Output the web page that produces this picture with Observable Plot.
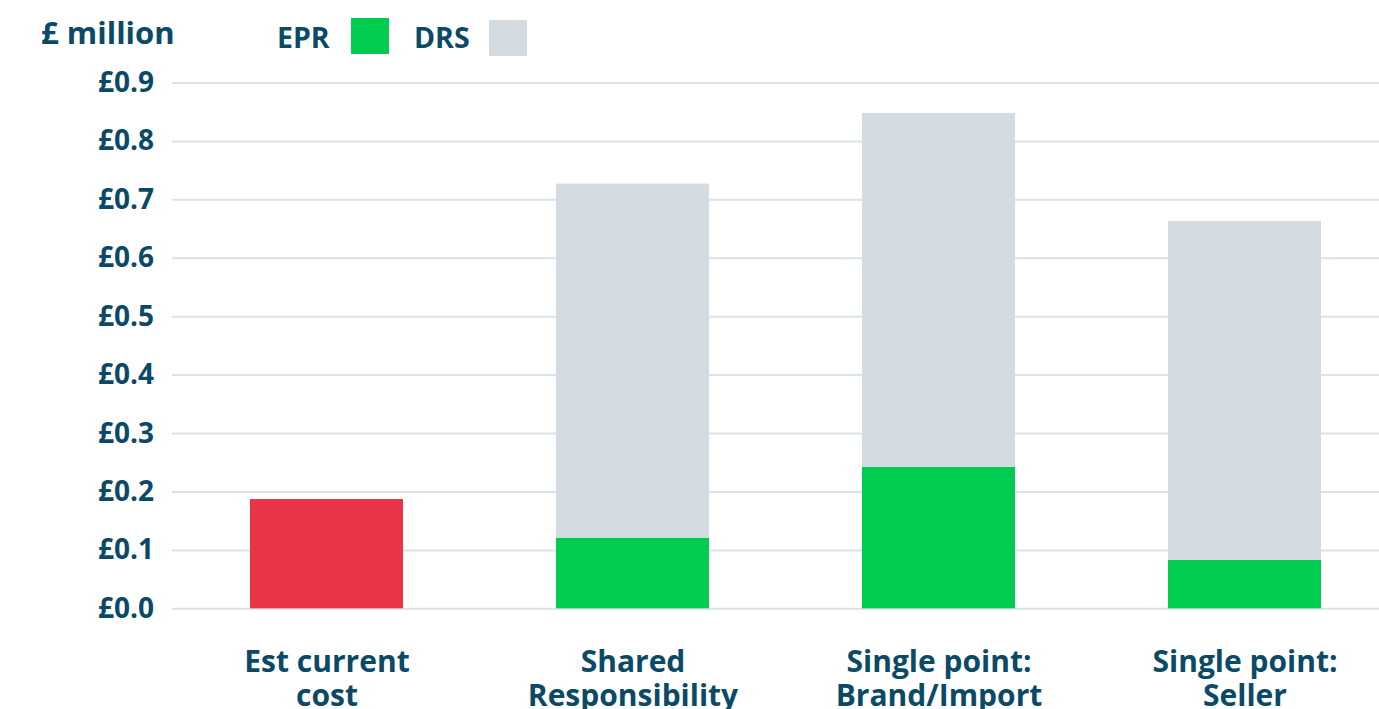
<!DOCTYPE html>
<html>
<head>
<meta charset="utf-8">
<script src="https://cdn.jsdelivr.net/npm/d3@7"></script>
<script src="https://cdn.jsdelivr.net/npm/@observablehq/plot@0.6"></script>
<style>
  html, body { margin: 0; padding: 0; background: #ffffff; overflow: hidden; }
  body { font-family: "Open Sans", sans-serif; color: #0b4a66; }
  #header { position: relative; width: 1379px; height: 60px; }
  #header .t { position: absolute; font-weight: 700; line-height: 1; white-space: nowrap; }
  #header .sw { position: absolute; width: 38px; height: 36px; }
</style>
</head>
<body>
<div id="header">
  <div class="t" style="left:41px; top:17px; font-size:31px;">£ million</div>
  <div class="t" style="left:277px; top:23px; font-size:28.5px;">EPR</div>
  <div class="sw" id="sw-epr" style="left:351px; top:18px;"></div>
  <div class="t" style="left:414px; top:23px; font-size:28.5px;">DRS</div>
  <div class="sw" id="sw-drs" style="left:489px; top:20px;"></div>
</div>
<div id="chart"></div>
<script>
// Cost options, £ million
const categories = ["Est current\ncost", "Shared\nResponsibility", "Single point:\nBrand/Import", "Single point:\nSeller"];
const currentCost = [0.187, 0, 0, 0];
const eprCost = [0, 0.121, 0.242, 0.083];
const drsCost = [0, 0.606, 0.606, 0.580];
const yTicks = [0, 0.1, 0.2, 0.3, 0.4, 0.5, 0.6, 0.7, 0.8, 0.9];

const seriesNames = ["Current", "EPR", "DRS"];
const seriesColors = ["#eb3348", "#00cc4f", "#d4dce2"];

document.getElementById("sw-epr").style.background = seriesColors[1];
document.getElementById("sw-drs").style.background = seriesColors[2];

// Long-format rows; EPR listed before DRS so it stacks at the bottom
const rows = [];
categories.forEach((c, i) => {
  if (currentCost[i] > 0) rows.push({category: c, series: "Current", value: currentCost[i]});
  if (eprCost[i] > 0) rows.push({category: c, series: "EPR", value: eprCost[i]});
  if (drsCost[i] > 0) rows.push({category: c, series: "DRS", value: drsCost[i]});
});

const chart = Plot.plot({
  width: 1379,
  height: 660,
  marginTop: 22.5,
  marginBottom: 111.7,
  marginLeft: 172,
  marginRight: 0,
  style: {color: "#0b4a66", fontFamily: "'Open Sans', sans-serif", background: "#ffffff"},
  x: {domain: categories, range: [171.7, 1398.4], paddingInner: 0.5, paddingOuter: 0.25},
  y: {domain: [0, 0.9]},
  color: {domain: seriesNames, range: seriesColors},
  marks: [
    Plot.ruleY(yTicks, {stroke: "#dbe3e6", strokeWidth: 2}),
    Plot.barY(rows, {x: "category", y: "value", fill: "series"}),
    Plot.axisY({
      ticks: yTicks,
      tickFormat: d => "£" + d.toFixed(1),
      tickSize: 0,
      tickPadding: 18.5,
      fontSize: 28,
      fontWeight: 700,
      label: null
    }),
    Plot.axisX({
      tickSize: 0,
      tickPadding: 39,
      fontSize: 30,
      fontWeight: 700,
      lineHeight: 1.13,
      label: null
    })
  ]
});
document.getElementById("chart").appendChild(chart);
</script>
</body>
</html>
